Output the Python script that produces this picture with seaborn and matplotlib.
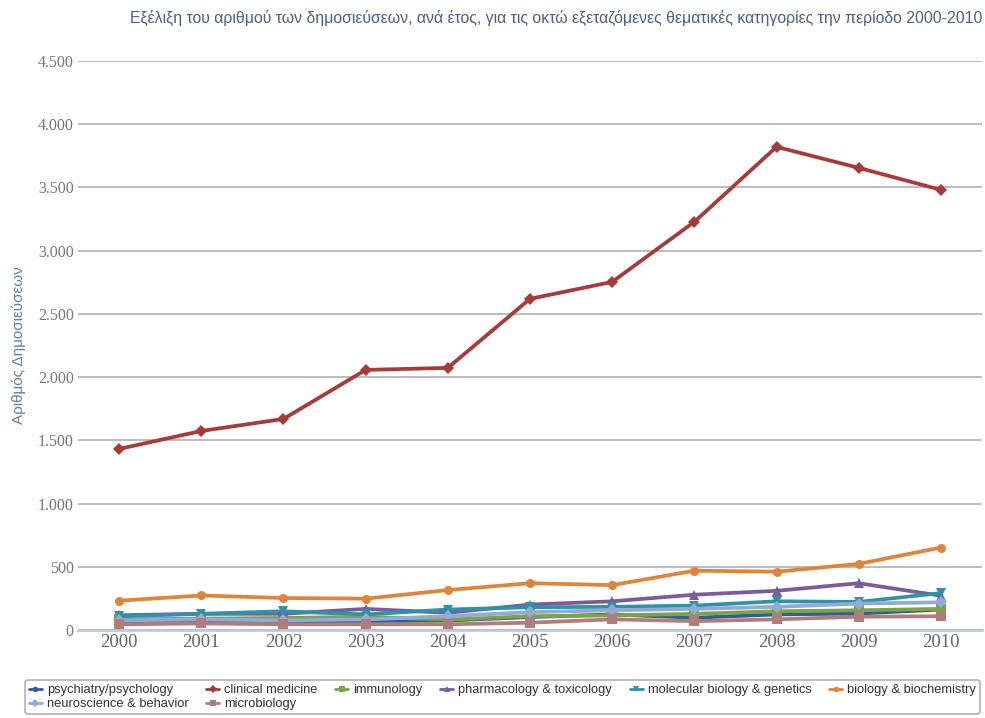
import pandas as pd
import numpy as np
import matplotlib
matplotlib.use('Agg')
import matplotlib.pyplot as plt
import seaborn as sns
from matplotlib.ticker import FuncFormatter, FixedLocator
import warnings
warnings.filterwarnings('ignore')

sns.set_theme(style="white")
plt.rcParams['font.family'] = ['Liberation Sans Narrow', 'Liberation Sans', 'DejaVu Sans']

# Data
years = ['2000', '2001', '2002', '2003', '2004', '2005', '2006', '2007', '2008', '2009', '2010']
categories = ['psychiatry/psychology', 'clinical medicine', 'immunology', 'pharmacology & toxicology',
              'molecular biology & genetics', 'biology & biochemistry', 'neuroscience & behavior', 'microbiology']

psychiatry = [70, 75, 65, 70, 75, 102, 123, 97, 123, 130, 162]
clinical = [1432, 1574, 1669, 2057, 2073, 2619, 2753, 3228, 3821, 3655, 3481]
immunology = [84, 90, 95, 105, 82, 109, 115, 128, 148, 156, 167]
pharmacology = [117, 128, 128, 167, 136, 201, 227, 279, 310, 370, 271]
molecular = [109, 128, 148, 123, 162, 180, 183, 193, 227, 222, 292]
biology = [232, 273, 253, 248, 316, 370, 355, 469, 461, 523, 652]
neuroscience = [76, 84, 76, 84, 109, 141, 156, 167, 183, 209, 219]
microbiology = [45, 52, 45, 45, 45, 58, 84, 70, 84, 105, 109]

series = [psychiatry, clinical, immunology, pharmacology, molecular, biology, neuroscience, microbiology]

colors = ['#2f5f98', '#a83a3a', '#7fa244', '#7a5c9c', '#2e93a9', '#e0843a', '#93aad6', '#b07c7c']
markers = ['o', 'D', 's', '^', 'v', 'o', 'D', 's']

df = pd.DataFrame({
    'year': years * len(categories),
    'count': np.concatenate(series),
    'category': np.repeat(categories, len(years)),
})

fig = plt.figure(figsize=(9.85, 7.18), dpi=100)
ax = fig.add_axes([78 / 985, 1 - 630 / 718, 904 / 985, 569 / 718])

sns.lineplot(data=df, x='year', y='count', hue='category', style='category',
             hue_order=categories, style_order=categories,
             palette=dict(zip(categories, colors)),
             markers=dict(zip(categories, markers)), dashes=False,
             linewidth=2.7, markersize=6.5, markeredgewidth=0, sort=False,
             ax=ax, legend=False)

ax.set_xlim(-0.5, len(years) - 0.5)
ax.set_ylim(0, 4500)
ax.yaxis.set_major_locator(FixedLocator(np.arange(0, 4501, 500)))
ax.yaxis.set_major_formatter(FuncFormatter(lambda v, p: f"{int(v):,}".replace(',', '.')))
ax.grid(axis='y', color='#bcbcbc', linewidth=1.4)
ax.grid(axis='x', visible=False)
ax.set_axisbelow(True)
for s in ['top', 'right', 'left']:
    ax.spines[s].set_visible(False)
ax.spines['bottom'].set_color('#b9cce4')
ax.spines['bottom'].set_linewidth(2)
ax.spines['bottom'].set_zorder(0.5)

ax.set_xticks(range(len(years)))
ax.set_xticklabels(years)
ax.set_xticks(np.arange(-0.5, len(years), 1), minor=True)
ax.tick_params(axis='x', which='major', length=0, pad=3, labelsize=13.5, labelcolor='#666666')
ax.tick_params(axis='x', which='minor', length=6, width=1.2, color='#b9cce4', direction='out')
ax.tick_params(axis='y', length=0, pad=3, labelsize=11.5, labelcolor='#777777')
for lbl in ax.get_xticklabels() + ax.get_yticklabels():
    lbl.set_family(['Liberation Serif', 'DejaVu Serif'])

ax.set_xlabel('')
ax.set_ylabel('Αριθμός Δημοσιεύσεων', color='#5d7fa8', fontsize=11, labelpad=4)
ax.yaxis.set_label_coords(-0.058, 0.5)

fig.text(982 / 985, 1 - 18 / 718, 'Εξέλιξη του αριθμού των δημοσιεύσεων, ανά έτος, για τις οκτώ εξεταζόμενες θεματικές κατηγορίες την περίοδο 2000-2010',
         ha='right', va='center', fontsize=11.4, color='#4a6283')

# Legend: order so that the column fill reads row by row
handles = [plt.Line2D([], [], color=c, marker=m, markersize=4, linewidth=2, markeredgewidth=0)
           for c, m in zip(colors, markers)]
order = [0, 6, 1, 7, 2, 3, 4, 5]
leg = fig.legend([handles[i] for i in order], [categories[i] for i in order],
                 loc='lower left', bbox_to_anchor=(25 / 985, 4 / 718, 955 / 985, 34 / 718),
                 ncol=6, mode='expand', fontsize=9.3, frameon=True, fancybox=True,
                 edgecolor='#a0a0a0', handlelength=1.0, handletextpad=0.4,
                 columnspacing=1.0, labelspacing=0.15, borderpad=0.3, borderaxespad=0)
leg.get_frame().set_linewidth(1.2)
for t in leg.get_texts():
    t.set_color('#333333')

fig.savefig('out.png', dpi=100)
